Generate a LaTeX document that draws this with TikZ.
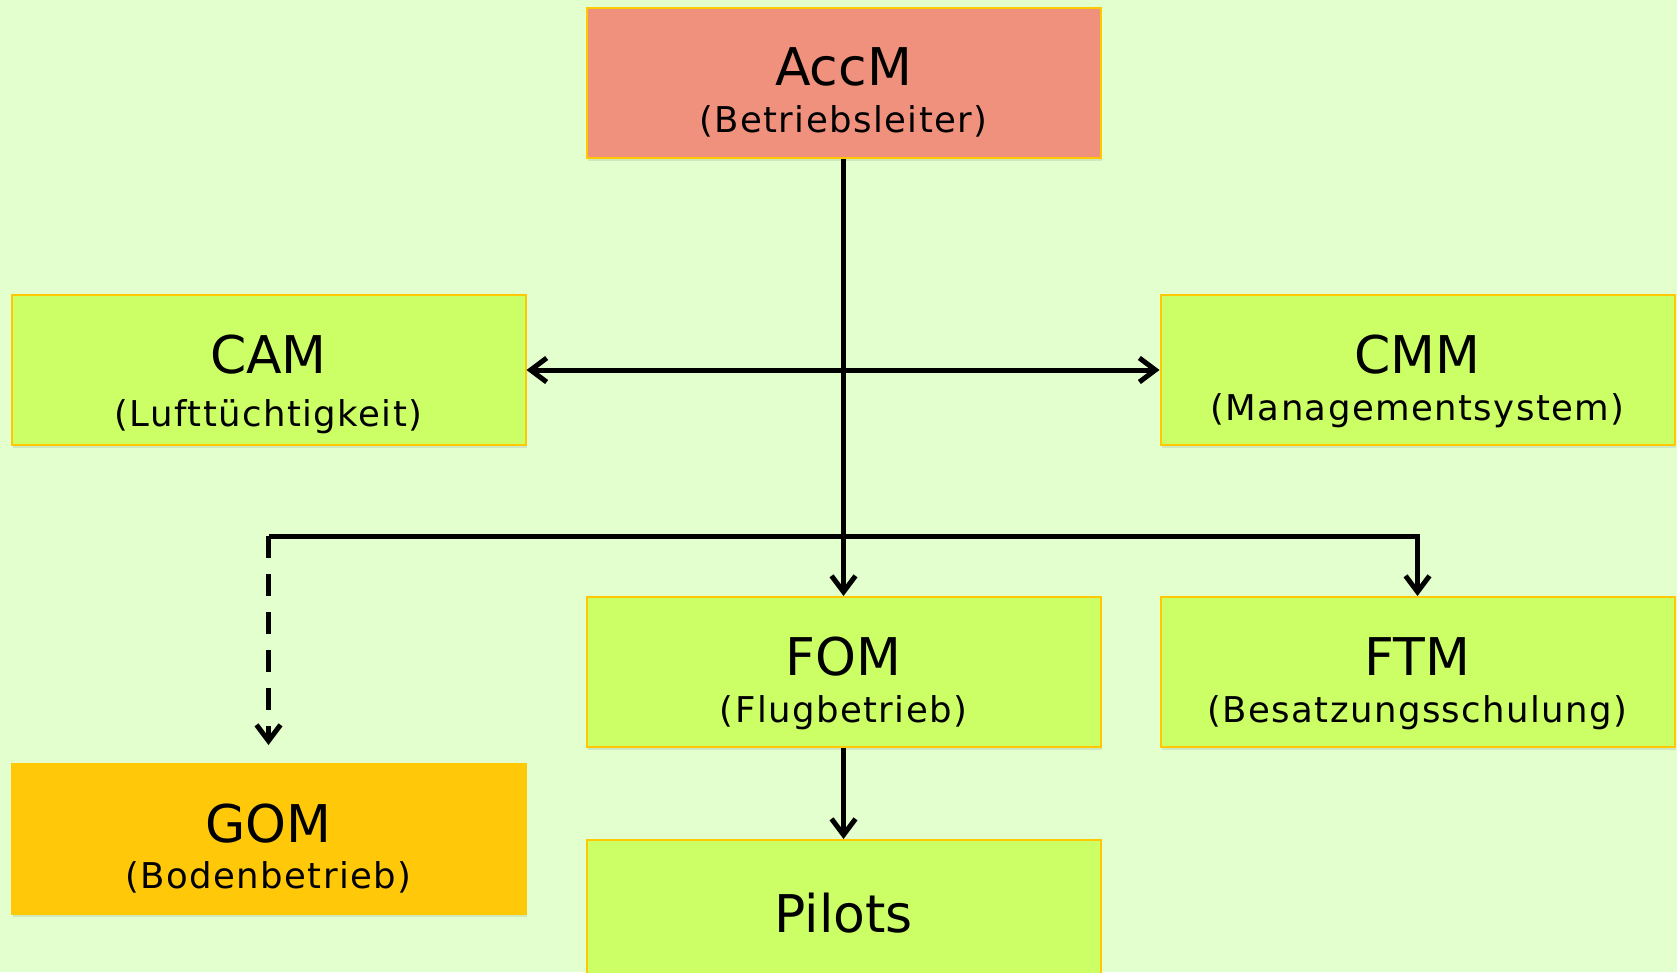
\documentclass[tikz,border=0pt]{standalone}
\usepackage{fontspec}
\usetikzlibrary{arrows.meta,shadows}
\newfontfamily\boxfont{DejaVu Sans}
\newfontfamily\subfont[LetterSpace=4]{DejaVu Sans}

\begin{document}
\begin{tikzpicture}[x=1pt,y=-1pt,
  box/.style={rectangle, draw=boxdraw, fill=boxgreen, line width=2pt,
    minimum width=514pt, minimum height=150pt, inner sep=0pt,
    drop shadow={shadow xshift=1pt,shadow yshift=-3pt,opacity=0.18}},
  headtxt/.style={anchor=base, inner sep=0pt, font=\boxfont\fontsize{52}{52}\selectfont},
  subtxt/.style={anchor=base, inner sep=0pt, font=\subfont\fontsize{35.5}{35.5}\selectfont},
  link/.style={line width=5pt, -{Straight Barb[length=16pt,width=24pt]}}]
%Define all colors here.
\definecolor{bg}{RGB}{226,255,205}
\definecolor{boxgreen}{RGB}{204,255,102}
\definecolor{boxdraw}{RGB}{255,200,0}
\definecolor{accmfill}{RGB}{240,145,125}
\definecolor{gomfill}{RGB}{255,201,10}

\useasboundingbox (0,0) rectangle (1677,972);
\clip (0,0) rectangle (1677,972);
\fill[bg] (0,0) rectangle (1677,972);

%Boxes.
\node(accm) at (843.5,82.5) [box, fill=accmfill] {};
\node(accm-t) at (843.5,85) [headtxt] {AccM};
\node(accm-s) at (843.5,132) [subtxt] {(Betriebsleiter)};

\node(cam) at (268.5,370) [box] {};
\node(cam-t) at (268.5,373) [headtxt] {CAM};
\node(cam-s) at (268.5,426) [subtxt] {(Lufttüchtigkeit)};

\node(cmm) at (1417.5,370) [box] {};
\node(cmm-t) at (1417.5,373) [headtxt] {CMM};
\node(cmm-s) at (1417.5,420) [subtxt] {(Managementsystem)};

\node(fom) at (843.5,672) [box] {};
\node(fom-t) at (843.5,675) [headtxt] {FOM};
\node(fom-s) at (843.5,722) [subtxt] {(Flugbetrieb)};

\node(ftm) at (1417.5,672) [box] {};
\node(ftm-t) at (1417.5,675) [headtxt] {FTM};
\node(ftm-s) at (1417.5,722) [subtxt] {(Besatzungsschulung)};

\node(gom) at (268.5,839) [box, fill=gomfill] {};
\node(gom-t) at (268.5,842) [headtxt] {GOM};
\node(gom-s) at (268.5,888) [subtxt] {(Bodenbetrieb)};

\node(pilots) at (843.5,915) [box] {};
\node(pilots-t) at (843.5,932) [headtxt] {Pilots};

%Connectors.
\coordinate(hub) at (843.5,536);
\draw[link] (accm) -- (fom);
\draw[link, {Straight Barb[length=16pt,width=24pt]}-{Straight Barb[length=16pt,width=24pt]}] (cam) -- (cmm);
\draw[link] (hub) -| (ftm);
\draw[line width=5pt] (hub) -- (hub -| gom) coordinate(gomturn);
\draw[link, dash pattern=on 22pt off 16pt, shorten >=18pt] (gomturn) -- (gom);
\draw[link] (fom) -- (pilots);
\end{tikzpicture}
\end{document}
